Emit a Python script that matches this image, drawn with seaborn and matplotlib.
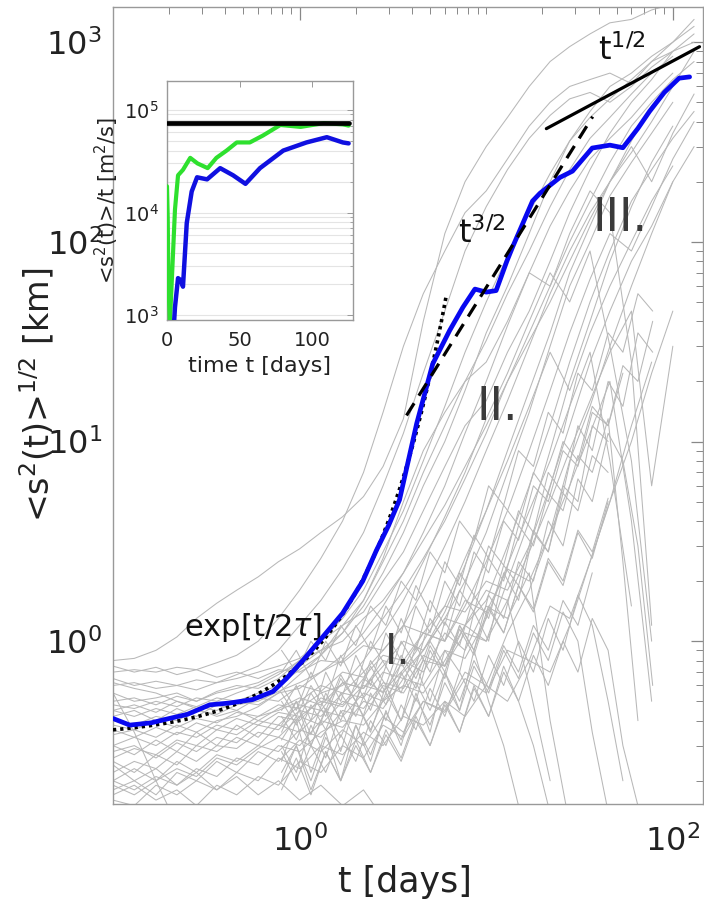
import numpy as np
import pandas as pd
import matplotlib
matplotlib.use("Agg")
import matplotlib.pyplot as plt
import matplotlib.ticker as mticker
import seaborn as sns

# ---------------- data ----------------
N = None
t_grid = [0.10, 0.13, 0.17, 0.22, 0.28, 0.36, 0.46, 0.60, 0.77, 1.0, 1.3, 1.7, 2.2, 2.8, 3.6,
          4.6, 6.0, 7.7, 10, 13, 17, 22, 28, 36, 46, 60, 77, 100, 130]

traj_01 = [0.80, 0.82, 0.90, 1.05, 1.3, 1.55, 1.8, 2.1, 2.5, 2.9, 3.5, 4.2, 5.3, 7.5, 13, 40, 110, 200, 300, 420, 600, 800, 950, 1100, 1250, 1300, 1450, 1550, 1700]
traj_02 = [0.70, 0.72, 0.70, 0.74, 0.72, 0.78, 0.85, 1.0, 1.3, 1.8, 2.6, 4.0, 7.0, 14, 30, 55, 90, 140, 180, 260, 380, 500, 600, 650, 700, 620, 800, 1000, 1200]
traj_03 = [0.65, 0.60, 0.63, 0.60, 0.64, 0.62, 0.68, 0.75, 0.90, 1.2, 1.6, 2.3, 3.5, 6.0, 11, 22, 45, 90, 150, 230, 330, 430, 520, 560, 500, 600, 750, 900, 1000]
traj_04 = [0.55, 0.50, 0.52, 0.55, 0.50, 0.56, 0.60, 0.58, 0.65, 0.80, 0.90, 1.1, 1.5, 2.2, 3.5, 6.0, 10, 18, 35, 60, 110, 200, 320, 450, 600, 700, 850, 1000, 1300]
traj_05 = [0.45, 0.48, 0.44, 0.50, 0.47, 0.52, 0.50, 0.55, 0.60, 0.72, 0.85, 1.2, 1.6, 2.6, 5.0, 9.0, 14, 20, 25, 40, 70, 120, 180, 260, 330, 420, 550, 700, N]
traj_06 = [0.40, 0.38, 0.42, 0.40, 0.45, 0.43, 0.48, 0.50, 0.56, 0.62, 0.70, 0.80, 1.0, 1.3, 1.8, 2.6, 4.0, 6.5, 11, 20, 35, 60, 100, 160, 250, 380, 500, 650, 800]
traj_07 = [0.30, 0.33, 0.30, 0.35, 0.33, 0.38, 0.36, 0.42, 0.45, 0.50, 0.60, 0.55, 0.70, 0.90, 1.2, 1.8, 3.0, 5.0, 9.0, 16, 30, 55, 90, 140, 200, 280, 400, 600, 900]
traj_08 = [0.25, 0.22, 0.27, 0.24, 0.30, 0.28, 0.33, 0.30, 0.38, 0.35, 0.45, 0.42, 0.55, 0.50, 0.70, 0.90, 1.3, 2.0, 3.5, 7.0, 14, 30, 60, 100, 170, 250, 350, 500, N]
traj_09 = [0.20, 0.18, 0.21, 0.19, 0.23, 0.21, 0.26, 0.24, 0.30, 0.28, 0.35, 0.40, 0.38, 0.50, 0.60, 0.55, 0.80, 1.2, 1.0, 2.0, 4.0, 9.0, 20, 40, 80, 150, 250, 380, N]
traj_10 = [0.55, 0.35, 0.20, 0.12, N, N, N, N, N, N, N, N, N, N, N, N, N, N, N, N, N, N, N, N, N, N, N, N, N]
traj_11 = [0.18, 0.20, 0.17, 0.22, 0.20, 0.25, 0.22, 0.28, 0.25, 0.32, 0.28, 0.36, 0.30, 0.42, 0.35, 0.50, 0.45, 0.70, 0.60, 1.1, 1.8, 3.5, 8.0, 15, 30, 60, 110, 200, N]
traj_12 = [0.16, 0.15, 0.19, 0.17, 0.20, 0.18, 0.22, 0.20, 0.26, 0.23, 0.30, 0.27, 0.35, 0.30, 0.42, 0.38, 0.50, 0.42, 0.60, 0.50, 0.80, 0.70, 1.2, 2.5, 5.0, 12, 25, N, N]
traj_13 = [0.50, 0.52, 0.48, 0.53, 0.50, 0.55, 0.58, 0.62, 0.70, 0.75, 0.90, 1.0, 1.3, 1.6, 2.2, 3.5, 6.0, 11, 20, 38, 70, 60, 110, 180, 140, 25, 1.2, N, N]
traj_14 = [0.60, 0.62, 0.58, 0.60, 0.57, 0.62, 0.65, 0.70, 0.75, 0.82, 1.0, 1.2, 1.4, 2.0, 2.8, 4.5, 7.5, 12, 16, 28, 45, 80, 140, 230, 350, 500, 650, 900, 1100]
traj_15 = [0.30, 0.27, 0.32, 0.28, 0.35, 0.30, 0.38, 0.33, 0.42, 0.40, 0.52, 0.48, 0.65, 0.55, 0.80, 0.70, 1.1, 0.90, 1.5, 1.3, 2.2, 0.40, 0.12, N, N, N, N, N, N]
traj_16 = [0.22, 0.25, 0.23, 0.28, 0.25, 0.30, 0.29, 0.35, 0.33, 0.42, 0.38, 0.50, 0.46, 0.62, 0.58, 0.85, 0.75, 1.2, 1.6, 3.0, 6.0, 12, 25, 50, 90, 160, 230, 330, 450]
traj_17 = [0.42, 0.45, 0.40, 0.46, 0.42, 0.48, 0.45, 0.52, 0.50, 0.60, 0.56, 0.70, 0.66, 0.85, 0.80, 1.1, 1.0, 1.5, 2.5, 4.5, 9.0, 18, 35, 65, 110, 90, 150, 260, 400]
traj_18 = [0.38, 0.36, 0.40, 0.37, 0.41, 0.39, 0.44, 0.42, 0.48, 0.46, 0.55, 0.60, 0.80, 1.1, 1.6, 2.5, 4.2, 7.0, 13, 22, 40, 70, 50, 90, 30, 8.0, 1.0, N, N]
traj_19 = [0.28, 0.30, 0.26, 0.31, 0.28, 0.33, 0.31, 0.38, 0.36, 0.45, 0.42, 0.55, 0.52, 0.70, 0.65, 0.90, 1.4, 2.4, 4.5, 9.0, 18, 35, 70, 120, 200, 300, 200, 350, 550]
traj_20 = [0.24, 0.20, 0.23, 0.19, 0.22, 0.18, 0.21, 0.17, 0.20, 0.16, 0.19, 0.15, 0.18, 0.13, N, N, N, N, N, N, N, N, N, N, N, N, N, N, N]
traj_21 = [0.34, 0.36, 0.33, 0.38, 0.35, 0.40, 0.42, 0.47, 0.55, 0.68, 0.85, 1.1, 1.6, 2.5, 4.0, 7.0, 12, 20, 32, 55, 90, 150, 230, 330, 420, 550, 700, 850, N]
traj_22 = [0.20, 0.23, 0.20, 0.25, 0.22, 0.27, 0.25, 0.30, 0.28, 0.36, 0.33, 0.45, 0.42, 0.60, 0.55, 0.80, 0.75, 1.1, 1.0, 1.6, 2.8, 5.0, 9.0, 16, 28, 45, 6.0, 30, N]
traj_23 = [0.48, 0.46, 0.50, 0.47, 0.52, 0.50, 0.55, 0.60, 0.68, 0.80, 1.0, 1.3, 1.8, 2.8, 4.5, 8.0, 15, 28, 50, 85, 140, 220, 320, 420, 520, 650, 800, 900, N]
traj_24 = [0.62, 0.58, 0.55, 0.50, 0.46, 0.42, 0.45, 0.40, 0.46, 0.52, 0.48, 0.62, 0.58, 0.80, 0.75, 1.1, 1.0, 1.6, 1.4, 2.3, 2.0, 3.5, 6.0, 11, 20, 4.0, 0.5, N, N]
traj_25 = [0.17, 0.19, 0.16, 0.18, 0.15, 0.19, 0.17, 0.21, 0.19, 0.25, 0.22, 0.30, 0.26, 0.38, 0.33, 0.50, 0.44, 0.65, 0.55, 0.90, 0.80, 1.5, 1.3, 2.5, 5.0, 10, 22, 45, N]
traj_26 = [0.75, 0.70, 0.74, 0.68, 0.72, 0.66, 0.70, 0.65, 0.72, 0.70, 0.80, 0.78, 0.95, 0.90, 1.2, 1.1, 1.5, 1.4, 2.0, 1.8, 3.0, 6.0, 12, 25, 45, 80, 120, 200, 300]
traj_27 = [0.26, 0.29, 0.27, 0.32, 0.30, 0.36, 0.34, 0.40, 0.38, 0.48, 0.45, 0.62, 0.58, 0.75, 1.0, 0.90, 1.3, 1.2, 1.8, 1.6, 0.60, 0.20, N, N, N, N, N, N, N]
traj_28 = [0.36, 0.33, 0.37, 0.34, 0.39, 0.36, 0.41, 0.38, 0.44, 0.42, 0.50, 0.47, 0.60, 0.56, 0.72, 1.0, 1.5, 2.6, 4.5, 8.0, 15, 28, 18, 35, 60, 100, 160, 240, N]
traj_29 = [0.19, 0.17, 0.20, 0.23, 0.21, 0.26, 0.24, 0.29, 0.33, 0.30, 0.40, 0.37, 0.50, 0.46, 0.65, 0.60, 0.90, 0.82, 1.3, 2.4, 4.5, 8.0, 15, 28, 8.0, 1.5, N, N, N]
traj_30 = [0.45, 0.42, 0.46, 0.43, 0.47, 0.45, 0.50, 0.48, 0.55, 0.58, 0.70, 0.85, 1.1, 1.5, 2.2, 3.2, 4.8, 7.5, 12, 20, 32, 50, 80, 130, 200, 320, 480, 620, N]

gray_trajectories = [traj_01, traj_02, traj_03, traj_04, traj_05, traj_06, traj_07, traj_08,
                     traj_09, traj_10, traj_11, traj_12, traj_13, traj_14, traj_15, traj_16,
                     traj_17, traj_18, traj_19, traj_20, traj_21, traj_22, traj_23, traj_24,
                     traj_25, traj_26, traj_27, traj_28, traj_29, traj_30]

# noisier trajectories read on a finer time grid (dense cloud of regions I-II)
t_fine = [0.80, 0.96, 1.15, 1.38, 1.66, 2.0, 2.4, 2.9, 3.5, 4.2, 5.0, 6.0, 7.2, 8.6, 10.3,
          12.4, 14.9, 17.9, 21.5, 25.8, 31, 37, 45, 54, 65, 78]
noisy_01 = [0.35, 0.5, 0.3, 0.45, 0.28, 0.5, 0.35, 0.6, 0.4, 0.75, 0.5, 0.9, 0.7, 1.4, 1.0, 2.2, 1.6, 3.5, 2.8, 6.0, 5.0, 12, 10, N, N, N]
noisy_02 = [0.25, 0.4, 0.22, 0.35, 0.2, 0.38, 0.25, 0.45, 0.3, 0.55, 0.35, 0.7, 0.45, 0.9, 0.5, 0.3, 0.15, N, N, N, N, N, N, N, N, N]
noisy_03 = [0.6, 0.45, 0.7, 0.5, 0.85, 0.6, 1.0, 0.75, 1.3, 0.9, 1.6, 1.2, 2.2, 1.7, 3.0, 2.4, 4.5, 3.5, 7.0, 5.5, 12, 9.0, 20, 15, 35, 28]
noisy_04 = [0.3, 0.22, 0.38, 0.26, 0.45, 0.32, 0.55, 0.4, 0.7, 0.5, 0.9, 0.65, 1.2, 0.9, 1.7, 1.3, 2.5, 2.0, 4.0, 3.0, 6.5, 5.0, 11, 8.0, 3.0, 0.6]
noisy_05 = [0.45, 0.6, 0.4, 0.7, 0.5, 0.85, 0.6, 1.1, 0.8, 1.5, 1.1, 2.0, 1.5, 2.8, 2.2, 4.0, 3.2, 6.0, 5.0, 9.0, 7.5, 14, 12, 22, N, N]
noisy_06 = [0.2, 0.3, 0.18, 0.28, 0.2, 0.32, 0.22, 0.36, 0.26, 0.42, 0.3, 0.5, 0.35, 0.6, 0.42, 0.75, 0.5, 0.3, 0.15, N, N, N, N, N, N, N]
noisy_07 = [0.5, 0.38, 0.55, 0.42, 0.65, 0.5, 0.8, 0.6, 1.0, 0.75, 1.3, 1.0, 1.8, 1.4, 2.6, 2.0, 3.8, 3.0, 5.5, 4.5, 8.5, 7.0, 13, 2.5, 0.4, N]
noisy_08 = [0.38, 0.5, 0.34, 0.55, 0.4, 0.62, 0.45, 0.75, 0.55, 0.95, 0.7, 1.25, 0.95, 1.7, 1.3, 2.4, 1.9, 3.6, 2.8, 5.5, 4.5, 8.5, 7.0, N, N, N]
noisy_09 = [0.28, 0.2, 0.3, 0.22, 0.34, 0.25, 0.4, 0.3, 0.48, 0.36, 0.58, 0.42, 0.7, 0.5, 0.85, 0.6, 1.0, 0.7, 1.3, 0.9, 1.7, 1.2, 0.5, 0.2, N, N]
noisy_10 = [0.7, 0.9, 0.65, 1.0, 0.75, 1.2, 0.9, 1.5, 1.1, 1.9, 1.4, 2.5, 1.9, 3.4, 2.6, 4.8, 3.8, 7.0, 5.5, 10, 8.0, 15, 12, 24, 20, 40]
noisy_11 = [0.32, 0.42, 0.3, 0.46, 0.33, 0.5, 0.36, 0.55, 0.4, 0.62, 0.45, 0.7, 0.5, 0.8, 0.58, 0.95, 0.7, 1.2, 0.9, 1.6, 1.2, 2.2, N, N, N, N]
noisy_12 = [0.55, 0.42, 0.6, 0.45, 0.68, 0.5, 0.75, 0.55, 0.85, 0.65, 1.0, 0.75, 1.2, 0.9, 1.5, 1.1, 1.9, 1.4, 2.5, 1.9, 3.5, 2.6, 5.0, N, N, N]
noisy_13 = [0.22, 0.3, 0.2, 0.33, 0.24, 0.38, 0.27, 0.44, 0.32, 0.52, 0.38, 0.62, 0.45, 0.75, 0.55, 0.9, 0.65, 1.1, 0.8, 1.4, 1.0, 0.35, 0.14, N, N, N]
noisy_14 = [0.42, 0.32, 0.48, 0.36, 0.55, 0.42, 0.65, 0.48, 0.78, 0.58, 0.95, 0.7, 1.15, 0.85, 1.45, 1.1, 1.9, 1.45, 2.6, 2.0, 3.6, 2.8, 5.2, N, N, N]
noisy_15 = [0.9, 0.7, 1.0, 0.8, 1.2, 0.95, 1.5, 1.2, 2.0, 1.6, 2.8, 2.2, 4.0, 3.2, 6.0, 4.8, 9.0, 7.5, 14, 11, 22, 18, 35, 28, 55, 45]
noisy_16 = [0.18, 0.26, 0.17, 0.28, 0.2, 0.3, 0.22, 0.34, 0.25, 0.4, 0.3, 0.48, 0.35, 0.58, 0.42, 0.7, 0.5, 0.85, 0.6, 1.0, 0.7, 1.3, 0.9, 0.3, 0.15, N]

noisy_trajectories = [noisy_01, noisy_02, noisy_03, noisy_04, noisy_05, noisy_06, noisy_07,
                      noisy_08, noisy_09, noisy_10, noisy_11, noisy_12, noisy_13, noisy_14,
                      noisy_15, noisy_16]

# rms dispersion (thick blue curve)
t_mean = [0.10, 0.123, 0.16, 0.20, 0.25, 0.33, 0.42, 0.56, 0.72, 0.85, 1.04, 1.33, 1.70, 2.18,
          2.58, 3.0, 3.43, 4.24, 5.17, 6.37, 7.5, 8.7, 10.0, 11.3, 12.9, 13.9, 17.7, 19.4, 24.8,
          29, 37, 46, 54, 65, 75, 90, 108, 123]
s_mean = [0.41, 0.38, 0.39, 0.41, 0.43, 0.48, 0.49, 0.51, 0.56, 0.65, 0.80, 1.05, 1.38, 2.0,
          2.85, 3.8, 5.1, 12.3, 24.5, 36, 47, 58, 56, 57, 80, 95, 160, 175, 210,
          226, 295, 305, 296, 370, 450, 560, 660, 670]

# fitted regimes
exp_amp, exp_tau, exp_range = 0.331, 0.6, (0.1, 6.1)      # exp[t/2tau]
rich_amp, rich_range = 1.867, (3.74, 37.2)                # t^{3/2}
diff_amp, diff_range = 80.5, (21.0, 139.0)               # t^{1/2}

# inset: <s^2(t)>/t  [m^2/s]
inset_t_green = [0, 0.5, 1.0, 2.0, 3.5, 5.5, 7.6, 11, 16, 21, 28, 34, 41, 48, 57, 66, 78, 92, 108, 121, 125]
inset_green = [18000, 9000, 2000, 850, 2500, 10700, 23000, 26000, 34000, 30000, 27000, 34000,
               40000, 48000, 48000, 56000, 71000, 68000, 74000, 72000, 70000]
inset_t_blue = [4.5, 5.5, 7.6, 9.5, 11, 13.6, 17, 20.7, 27.6, 36.6, 45.5, 54, 64, 80, 96, 110, 121, 125]
inset_blue = [700, 1200, 2300, 2200, 1900, 7900, 16000, 22000, 21000, 27000, 23000, 19000,
              27000, 40000, 48000, 54000, 48000, 47000]
inset_t_black = [0, 125]
inset_black = [74000, 74000]

# ---------------- style ----------------
sns.set_style("white")
plt.rcParams["font.family"] = ["DejaVu Sans"]
plt.rcParams["mathtext.fontset"] = "dejavusans"

fig = plt.figure(figsize=(7.04, 8.99), dpi=100)
ax = fig.add_axes([0.1605, 0.1057, 0.838, 0.8865])
ax.set_xscale("log")
ax.set_yscale("log")

rows = []
for k, traj in enumerate(gray_trajectories):
    for t, s in zip(t_grid, traj):
        if s is not None:
            rows.append((k, t, s))
for k, traj in enumerate(noisy_trajectories):
    for t, s in zip(t_fine, traj):
        if s is not None:
            rows.append((100 + k, t, s))
gray_df = pd.DataFrame(rows, columns=["traj", "t", "s"])

sns.lineplot(data=gray_df, x="t", y="s", units="traj", estimator=None, color="#b8b8b8",
             linewidth=0.75, legend=False, ax=ax, zorder=1)

t_exp = np.geomspace(*exp_range, 80)
ax.plot(t_exp, exp_amp * np.exp(t_exp / (2 * exp_tau)), color="black", lw=2.6,
        linestyle=(0, (0.9, 1.1)), zorder=4)
sns.lineplot(x=t_mean, y=s_mean, color="#0808f0", linewidth=3.4, estimator=None, sort=False,
             ax=ax, zorder=5)
t_r = np.array(rich_range)
ax.plot(t_r, rich_amp * t_r ** 1.5, color="black", lw=2.3, linestyle=(0, (4.5, 2.8)), zorder=6)
t_d = np.array(diff_range)
ax.plot(t_d, diff_amp * t_d ** 0.5, color="black", lw=2.3, zorder=6)

ax.set_xlim(0.1, 145)
ax.set_ylim(0.153, 1500)
ax.set_xticks([1, 100])
ax.xaxis.set_minor_locator(mticker.LogLocator(base=10, subs=np.arange(1, 10), numticks=100))
ax.yaxis.set_major_locator(mticker.LogLocator(base=10, numticks=100))
ax.yaxis.set_minor_locator(mticker.LogLocator(base=10, subs=np.arange(2, 10), numticks=100))
ax.xaxis.set_minor_formatter(mticker.NullFormatter())
ax.yaxis.set_minor_formatter(mticker.NullFormatter())
ax.tick_params(which="both", direction="in", top=True, right=True, color="#888888",
               labelsize=23, labelcolor="#222222")
ax.tick_params(which="major", length=9, width=0.9)
ax.tick_params(which="minor", length=5, width=0.7)
ax.tick_params(axis="x", which="major", pad=15)
ax.tick_params(axis="y", which="major", pad=8)
for sp in ax.spines.values():
    sp.set_color("#999999")
    sp.set_linewidth(1.0)
ax.set_xlabel("")
ax.set_ylabel("")

fig.text(37 / 704, 1 - 395 / 899, r"<s$^2$(t)>$^{1/2}$ [km]", rotation=90, ha="center",
         va="center", fontsize=24, color="#222222")
fig.text(405 / 704, 1 - 882 / 899, "t [days]", ha="center", va="center", fontsize=25,
         color="#222222")

txt_kw = dict(transform=ax.transAxes, ha="center", va="center")
ax.text(0.862, 0.945, r"t$^{1/2}$", fontsize=23, color="#111111", **txt_kw)
ax.text(0.625, 0.716, r"t$^{3/2}$", fontsize=23, color="#111111", **txt_kw)
ax.text(0.860, 0.735, "III.", fontsize=33, color="#3a3a3a", **txt_kw)
ax.text(0.651, 0.497, "II.", fontsize=33, color="#3a3a3a", **txt_kw)
ax.text(0.482, 0.191, "I.", fontsize=30, color="#3a3a3a", **txt_kw)
ax.text(0.237, 0.222, r"exp[t/2$\tau$]", fontsize=22, color="#111111", **txt_kw)

# ---------------- inset ----------------
axi = fig.add_axes([0.2372, 0.644, 0.2642, 0.2659])
axi.set_yscale("log")
axi.set_facecolor("white")
sns.lineplot(x=inset_t_green, y=inset_green, color="#2ee02e", linewidth=3.0, estimator=None,
             sort=False, ax=axi, zorder=3)
sns.lineplot(x=inset_t_blue, y=inset_blue, color="#1010e0", linewidth=3.2, estimator=None,
             sort=False, ax=axi, zorder=4)
sns.lineplot(x=inset_t_black, y=inset_black, color="black", linewidth=3.4, estimator=None,
             sort=False, ax=axi, zorder=5)
axi.set_xlim(0, 128)
axi.set_ylim(900, 1.9e5)
axi.set_xticks([0, 50, 100])
axi.yaxis.set_major_locator(mticker.LogLocator(base=10, numticks=10))
axi.yaxis.set_minor_locator(mticker.LogLocator(base=10, subs=np.arange(2, 10), numticks=50))
axi.yaxis.set_minor_formatter(mticker.NullFormatter())
axi.yaxis.grid(True, which="both", color="#e4e4e4", linewidth=0.8)
axi.set_axisbelow(True)
axi.tick_params(which="both", direction="in", top=True, right=True, color="#999999",
                labelsize=14, labelcolor="#222222")
axi.tick_params(which="major", length=4, width=0.7)
axi.tick_params(which="minor", length=2.5, width=0.6)
axi.tick_params(axis="x", pad=8)
axi.tick_params(axis="y", pad=6)
for sp in axi.spines.values():
    sp.set_color("#999999")
    sp.set_linewidth(1.0)
axi.set_xlabel("time t [days]", fontsize=16, color="#222222", labelpad=4)
axi.set_ylabel(r"<s$^2$(t)>/t [m$^2$/s]", fontsize=15, color="#222222", labelpad=2)

fig.savefig("out.png", dpi=100)
